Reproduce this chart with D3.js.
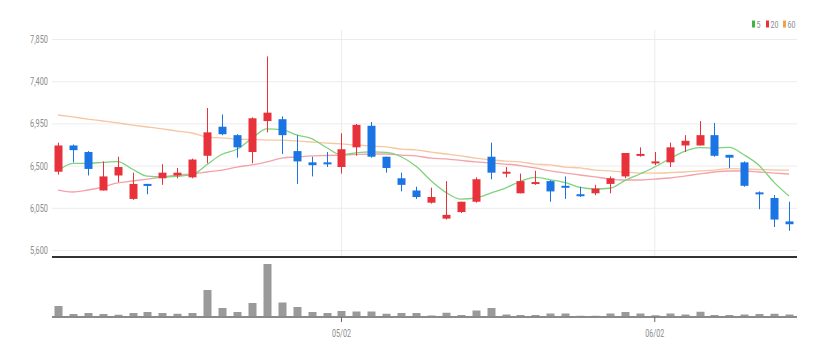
<!DOCTYPE html>
<html><head><meta charset="utf-8">
<script src="https://cdn.jsdelivr.net/npm/d3@7"></script>
<style>body{margin:0;background:#fff}svg{display:block}</style>
</head><body>
<svg id="c" width="828" height="357"></svg>
<script>
const dates = ["04/04","04/05","04/06","04/07","04/10","04/11","04/12","04/13","04/14","04/17",
"04/18","04/19","04/20","04/21","04/24","04/25","04/26","04/27","04/28","05/02",
"05/03","05/04","05/08","05/09","05/10","05/11","05/12","05/15","05/16","05/17",
"05/18","05/19","05/22","05/23","05/24","05/25","05/26","05/30","05/31","06/01",
"06/02","06/05","06/07","06/08","06/09","06/12","06/13","06/14","06/15","06/16"];
const open  = [6440,6720,6650,6240,6400,6150,6310,6370,6400,6380,6610,6920,6830,6650,6980,7000,6660,6540,6540,6490,6700,6930,6600,6370,6240,6110,5940,6010,6120,6600,6430,6210,6310,6340,6290,6200,6210,6310,6390,6610,6530,6540,6720,6720,6830,6620,6540,6220,6160,5910];
const high  = [6750,6730,6660,6550,6600,6430,6310,6520,6480,6580,7120,7050,6840,7020,7670,7030,6830,6600,6650,6850,6950,6970,6600,6430,6280,6270,6340,6120,6380,6750,6490,6420,6450,6350,6390,6280,6300,6390,6640,6700,6650,6750,6830,6980,6960,6620,6550,6230,6190,6120];
const low   = [6410,6540,6400,6240,6330,6140,6200,6300,6370,6370,6530,6830,6590,6530,6860,6630,6310,6390,6490,6420,6610,6590,6430,6230,6150,6100,5930,6000,6110,6360,6380,6210,6300,6120,6150,6170,6190,6210,6370,6600,6510,6490,6650,6720,6600,6480,6280,6040,5850,5810];
const close = [6720,6670,6470,6390,6490,6310,6290,6430,6430,6570,6860,6840,6700,7010,7070,6830,6550,6510,6530,6680,6940,6600,6480,6300,6170,6170,5980,6120,6360,6430,6440,6340,6330,6230,6280,6180,6260,6370,6640,6630,6550,6700,6770,6830,6610,6590,6290,6210,5930,5880];
const volume = [220000,60000,80000,60000,45000,80000,100000,80000,65000,80000,540000,180000,100000,280000,1060000,290000,200000,100000,80000,120000,110000,110000,65000,80000,80000,30000,85000,40000,130000,180000,50000,40000,40000,70000,70000,25000,25000,70000,100000,70000,35000,70000,50000,105000,40000,40000,50000,60000,65000,50000];
const ma5  = [6450,6530,6530,6540,6548,6466,6392,6384,6392,6408,6518,6626,6680,6796,6896,6890,6832,6794,6698,6620,6642,6652,6646,6600,6498,6344,6220,6148,6160,6212,6266,6338,6380,6354,6324,6272,6256,6264,6346,6416,6490,6578,6658,6696,6692,6700,6618,6506,6326,6180];
const ma20 = [6245,6224,6245,6277,6320,6341,6362,6384,6405,6416,6437,6458,6490,6512,6544,6586,6597,6608,6613,6618,6624,6629,6629,6618,6608,6586,6576,6560,6544,6533,6522,6506,6480,6448,6426,6405,6384,6362,6352,6352,6362,6373,6394,6416,6437,6448,6448,6437,6426,6416];
const ma60 = [7045,7024,7002,6981,6960,6938,6917,6896,6874,6853,6810,6800,6789,6784,6778,6778,6768,6757,6746,6736,6725,6714,6704,6682,6672,6650,6629,6608,6586,6565,6554,6544,6522,6512,6490,6480,6458,6448,6437,6426,6426,6430,6437,6448,6458,6474,6469,6464,6458,6458];
const priceTicks = [5600,6050,6500,6950,7400,7850];
const dateTicks = ["05/02","06/02"];
const maNames = ["5","20","60"];

const UP = "#e8323b", DOWN = "#1a74e3";
const MA_COLORS = ["#7fd27f","#f4a2aa","#f7c6a0"];

const svg = d3.select("#c");
const left = 52, right = 797;
const x = d3.scaleBand().domain(dates).range([50.5, 796.5]).paddingInner(0.45).paddingOuter(0.225);
const cx = d => x(d) + x.bandwidth()/2;
const y = d3.scaleLinear().domain([5600, 7850]).range([250.5, 39.5]);
const yv = d3.scaleLinear().domain([0, 1100000]).range([317, 262]);

// gridlines
svg.append("g").selectAll("line").data(priceTicks).join("line")
  .attr("x1", left).attr("x2", right)
  .attr("y1", d => y(d)).attr("y2", d => y(d))
  .attr("stroke", "#ececec").attr("stroke-width", 1);
svg.append("g").selectAll("line").data(dateTicks).join("line")
  .attr("x1", d => cx(d)).attr("x2", d => cx(d))
  .attr("y1", 30).attr("y2", 256)
  .attr("stroke", "#ececec").attr("stroke-width", 1);

// y labels
svg.append("g").selectAll("text").data(priceTicks).join("text")
  .attr("x", 48).attr("y", d => y(d) + 3.5)
  .attr("text-anchor", "end")
  .attr("font-family", "Roboto, 'Noto Sans', sans-serif")
  .attr("font-size", 10.5).attr("fill", "#8c8c8c")
  .attr("textLength", 18).attr("lengthAdjust", "spacingAndGlyphs")
  .text(d => d3.format(",")(d));

// MA lines
[ma60, ma20, ma5].forEach((arr, k) => {
  const col = MA_COLORS[2 - k];
  svg.append("path").datum(arr)
    .attr("fill", "none").attr("stroke", col).attr("stroke-width", 1.3)
    .attr("d", d3.line().x((v, i) => cx(dates[i])).y(v => y(v)).curve(d3.curveMonotoneX));
});

// candles
const idx = d3.range(dates.length);
const cg = svg.append("g");
cg.selectAll("line").data(idx).join("line")
  .attr("x1", i => Math.round(cx(dates[i])) + 0.5).attr("x2", i => Math.round(cx(dates[i])) + 0.5)
  .attr("y1", i => y(high[i])).attr("y2", i => y(low[i]))
  .attr("stroke", i => close[i] >= open[i] ? UP : DOWN).attr("stroke-width", 1);
cg.selectAll("rect").data(idx).join("rect")
  .attr("x", i => Math.round(cx(dates[i])) + 0.5 - 4)
  .attr("width", 8)
  .attr("y", i => y(Math.max(open[i], close[i])))
  .attr("height", i => Math.max(2, y(Math.min(open[i], close[i])) - y(Math.max(open[i], close[i]))))
  .attr("fill", i => close[i] >= open[i] ? UP : DOWN);

// bottom line of price chart
svg.append("line").attr("x1", left).attr("x2", right).attr("y1", 257).attr("y2", 257)
  .attr("stroke", "#333").attr("stroke-width", 2);

// volume bars
svg.append("g").selectAll("rect").data(idx).join("rect")
  .attr("x", i => Math.round(cx(dates[i])) + 0.5 - 4)
  .attr("width", 8)
  .attr("y", i => yv(volume[i]))
  .attr("height", i => yv(0) - yv(volume[i]))
  .attr("fill", "#9a9a9a");
svg.append("line").attr("x1", left).attr("x2", right).attr("y1", 317).attr("y2", 317)
  .attr("stroke", "#8a8a8a").attr("stroke-width", 2);

// date ticks
svg.append("g").selectAll("line").data(dateTicks).join("line")
  .attr("x1", d => cx(d)).attr("x2", d => cx(d)).attr("y1", 317).attr("y2", 322)
  .attr("stroke", "#666").attr("stroke-width", 1);
svg.append("g").selectAll("text").data(dateTicks).join("text")
  .attr("x", d => cx(d)).attr("y", 337)
  .attr("text-anchor", "middle")
  .attr("font-family", "Roboto, 'Noto Sans', sans-serif")
  .attr("font-size", 11.5).attr("fill", "#8c8c8c")
  .attr("textLength", 19).attr("lengthAdjust", "spacingAndGlyphs")
  .text(d => d);

// legend
const legX = [752, 766, 783];
const lg = svg.append("g");
maNames.forEach((n, k) => {
  lg.append("rect").attr("x", legX[k]).attr("y", 20.5).attr("width", 3).attr("height", 7)
    .attr("fill", [ "#3cb93c", "#e8323b", "#f0a050" ][k]);
  lg.append("text").attr("x", legX[k] + 4.5).attr("y", 27.5)
    .attr("font-family", "Roboto, 'Noto Sans', sans-serif")
    .attr("font-size", 9).attr("fill", "#8c8c8c")
    .attr("textLength", n.length * 4).attr("lengthAdjust", "spacingAndGlyphs")
    .text(n);
});
</script>
</body></html>
